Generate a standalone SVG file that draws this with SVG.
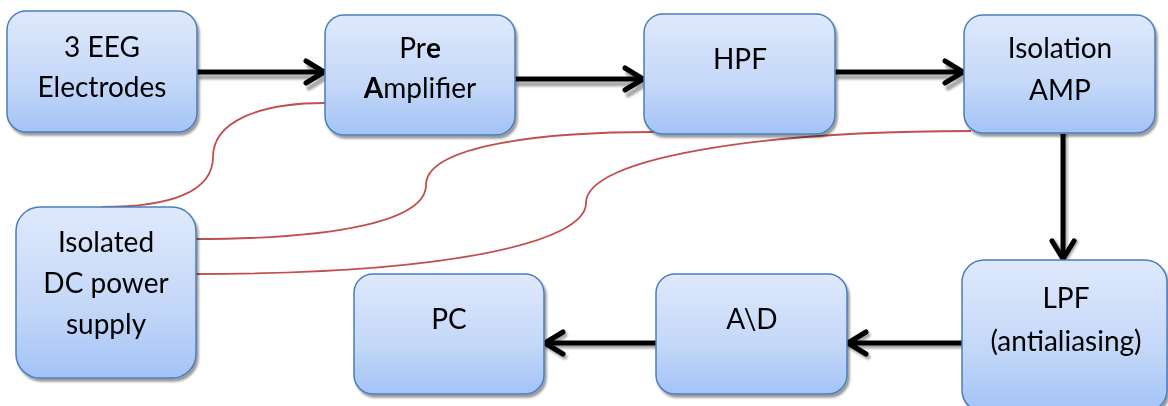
<svg xmlns="http://www.w3.org/2000/svg" width="1168" height="406" viewBox="0 0 1168 406">
<style>
.box{fill:url(#g);stroke:#4a7ebb;stroke-width:1.5;filter:url(#sh)}
.t{font-family:Lato,"Liberation Sans",sans-serif;font-size:28px;fill:#000;text-anchor:middle}
.b{font-weight:bold}
.arr{fill:none;stroke:#000;stroke-width:5;stroke-linecap:butt}
.arrs{fill:none;stroke:#8c8c8c;stroke-width:5;opacity:.75}
.pw{fill:none;stroke:#c0504d;stroke-width:1.8}
</style>
<defs>
<linearGradient id="g" x1="0" y1="0" x2="0" y2="1">
<stop offset="0" stop-color="#dfe9fc"/>
<stop offset="0.6" stop-color="#c3d7f8"/>
<stop offset="1" stop-color="#a3c3f6"/>
</linearGradient>
<filter id="sh" x="-10%" y="-10%" width="125%" height="125%">
<feDropShadow dx="2" dy="3" stdDeviation="1.2" flood-color="#000" flood-opacity="0.4"/>
</filter>
<filter id="bl"><feGaussianBlur stdDeviation="0.8"/></filter>
<marker id="ah" markerUnits="userSpaceOnUse" markerWidth="30" markerHeight="30" viewBox="-24 -15 30 30" refX="0" refY="0" orient="auto">
<path d="M-19,-11 L-1,0 L-19,11" fill="none" stroke="#000" stroke-width="5" stroke-linecap="round" stroke-linejoin="round"/>
</marker>
<marker id="ahs" markerUnits="userSpaceOnUse" markerWidth="30" markerHeight="30" viewBox="-24 -15 30 30" refX="0" refY="0" orient="auto">
<path d="M-19,-11 L-1,0 L-19,11" fill="none" stroke="#8c8c8c" stroke-width="5" stroke-linecap="round" stroke-linejoin="round"/>
</marker>
</defs>
<rect width="1168" height="406" fill="#fff"/>

<g id="connectors">
<g id="power-lines">
<path class="pw" d="M102,207 C170,207 213,192 213,157 C213,122 258,103 325,103"/>
<path class="pw" d="M195,239 C340,239 426,220 426,185 C426,150 520,132 654,132"/>
<path class="pw" d="M195,274 C450,274 586,242 586,203 C586,158 760,131 971,131"/>
</g>
<g id="shadows" filter="url(#bl)">
<path class="arrs" d="M197,75 L326,75" marker-end="url(#ahs)" transform="translate(2,2)"/>
<path class="arrs" d="M515,82 L645,82" marker-end="url(#ahs)" transform="translate(2,2)"/>
<path class="arrs" d="M835,75 L965,75" marker-end="url(#ahs)" transform="translate(2,2)"/>
<path class="arrs" d="M1066,134 L1066,261" marker-end="url(#ahs)" transform="translate(-1,0)"/>
<path class="arrs" d="M962,346 L847,346" marker-end="url(#ahs)" transform="translate(2,0)"/>
<path class="arrs" d="M656,346 L544,346" marker-end="url(#ahs)" transform="translate(2,0)"/>
</g>
<path class="arr" d="M197,72 L325,72" marker-end="url(#ah)"/>
<path class="arr" d="M515,79 L644,79" marker-end="url(#ah)"/>
<path class="arr" d="M835,72 L964,72" marker-end="url(#ah)"/>
<path class="arr" d="M1063,134 L1063,260" marker-end="url(#ah)"/>
<path class="arr" d="M962,343 L847,343" marker-end="url(#ah)"/>
<path class="arr" d="M656,343 L544,343" marker-end="url(#ah)"/>
</g>

<g id="electrodes">
<rect class="box" x="7" y="11" width="190" height="121" rx="19"/>
<text class="t" x="102" y="57">3 EEG</text>
<text class="t" x="102" y="97">Electrodes</text>
</g>
<g id="preamp">
<rect class="box" x="325" y="15" width="190" height="120" rx="19"/>
<text class="t" x="420" y="58">Pr<tspan class="b">e</tspan></text>
<text class="t" x="420" y="98"><tspan class="b">A</tspan>mplifier</text>
</g>
<g id="hpf">
<rect class="box" x="644" y="14" width="191" height="120" rx="19"/>
<text class="t" x="740" y="69">HPF</text>
</g>
<g id="isoamp">
<rect class="box" x="964" y="15" width="191" height="118" rx="19"/>
<text class="t" x="1060" y="58">Isolation</text>
<text class="t" x="1060" y="100">AMP</text>
</g>
<g id="dcpower">
<rect class="box" x="16" y="207" width="180" height="171" rx="24"/>
<text class="t" x="106" y="252">Isolated</text>
<text class="t" x="106" y="293">DC power</text>
<text class="t" x="106" y="334">supply</text>
</g>
<g id="pc">
<rect class="box" x="354" y="274" width="190" height="120" rx="19"/>
<text class="t" x="449" y="329">PC</text>
</g>
<g id="adc">
<rect class="box" x="656" y="274" width="191" height="120" rx="19"/>
<text class="t" x="752" y="329">A\D</text>
</g>
<g id="lpf">
<rect class="box" x="962" y="260" width="205" height="152" rx="22"/>
<text class="t" x="1066" y="308">LPF</text>
<text class="t" x="1066" y="351">(antialiasing)</text>
</g>
</svg>
